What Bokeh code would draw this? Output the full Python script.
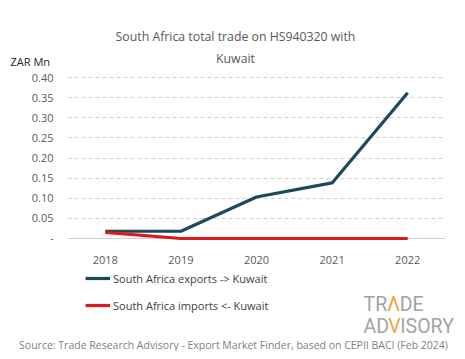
import numpy as np
from bokeh.plotting import figure
from bokeh.layouts import column
from bokeh.models import (Range1d, Label, Legend, LegendItem, FixedTicker, CustomJSTickFormatter,
                          ColumnDataSource, Span)
from bokeh.embed import file_html
from bokeh.resources import INLINE

years = ["2018", "2019", "2020", "2021", "2022"]
exports = [0.018, 0.018, 0.103, 0.138, 0.362]
imports = [0.015, 0.0, 0.0, 0.0, 0.0]
y_ticks = [0.0, 0.05, 0.10, 0.15, 0.20, 0.25, 0.30, 0.35, 0.40]
title_lines = ["South Africa total trade on HS940320 with", "Kuwait"]
series_names = ["South Africa exports -> Kuwait", "South Africa imports <- Kuwait"]
series_colors = ["#1b4a5c", "#dc1a1b"]
source_text = "Source: Trade Research Advisory - Export Market Finder, based on CEPII BACI (Feb 2024)"

FONT = "Open Sans"
W = 449
TOP_H, MAIN_H, BOT_H = 62, 198, 83


def blank(h):
    f = figure(width=W, height=h, x_range=Range1d(0, W), y_range=Range1d(0, h),
               x_axis_type=None, y_axis_type=None, output_backend="svg", toolbar_location=None,
               min_border=0, frame_align=False)
    f.outline_line_color = None
    f.grid.visible = False
    return f


# ---- top: title and unit
top = blank(TOP_H)
top.add_layout(Label(x=227, y=TOP_H - 28, text=title_lines[0], text_align="center",
                     text_baseline="middle", text_font=FONT, text_font_size="12.3px",
                     text_color="#595959"))
top.add_layout(Label(x=227, y=TOP_H - 50, text=title_lines[1], text_align="center",
                     text_baseline="middle", text_font=FONT, text_font_size="12.3px",
                     text_color="#595959"))
top.add_layout(Label(x=2, y=TOP_H - 53, text="ZAR Mn", text_align="left",
                     text_baseline="middle", text_font=FONT, text_font_size="11px",
                     text_color="#262626"))

# ---- main chart
p = figure(x_range=years, y_range=Range1d(-0.01, 0.41), width=W, height=MAIN_H,
           output_backend="svg", toolbar_location=None, frame_align=False,
           min_border_left=59, min_border_right=12, min_border_top=3, min_border_bottom=26)
p.outline_line_color = None

src = ColumnDataSource(dict(year=years, exp=exports, imp=imports))
p.add_layout(Span(location=0, dimension="width", line_color="#d0d0d0", line_width=1,
                  level="underlay"))
p.line("year", "exp", source=src, line_color=series_colors[0], line_width=3.2)
p.line("year", "imp", source=src, line_color=series_colors[1], line_width=3.2)

p.xgrid.grid_line_color = None
p.ygrid.ticker = FixedTicker(ticks=y_ticks[1:])
p.ygrid.grid_line_color = "#d0d0d0"
p.ygrid.grid_line_dash = "4 3"
p.ygrid.grid_line_width = 1

p.yaxis.ticker = FixedTicker(ticks=y_ticks)
p.yaxis.formatter = CustomJSTickFormatter(code="return tick == 0 ? '-' : tick.toFixed(2);")
for ax in (p.xaxis[0], p.yaxis[0]):
    ax.axis_line_color = None
    ax.major_tick_line_color = None
    ax.minor_tick_line_color = None
    ax.major_label_text_font = FONT
    ax.major_label_text_font_size = "11px"
    ax.major_label_text_color = "#595959"
p.yaxis.major_label_standoff = 8
p.xaxis.major_label_standoff = 7

# ---- bottom: legend, watermark, source
bot = blank(BOT_H)
r1 = bot.line(x=[np.nan], y=[np.nan], line_color=series_colors[0], line_width=3.2)
r2 = bot.line(x=[np.nan], y=[np.nan], line_color=series_colors[1], line_width=3.2)
legend = Legend(items=[LegendItem(label=series_names[0], renderers=[r1]),
                       LegendItem(label=series_names[1], renderers=[r2])],
                location=(77, 36), orientation="vertical",
                label_text_font=FONT, label_text_font_size="11px", label_text_color="#404040",
                glyph_width=25, glyph_height=20, label_height=20, label_standoff=3, spacing=7,
                background_fill_alpha=0, border_line_color=None, padding=0, margin=0)
bot.add_layout(legend, "center")

GREY, ORANGE = "#a3a3a3", "#f2a33a"
for txt, xx, yy, col in [("TR", 355, 47, GREY), ("Λ", 378.8, 47, ORANGE), ("DE", 391.2, 47, GREY),
                         ("AD", 355, 25, GREY), ("V", 379.8, 25, ORANGE), ("ISORY", 391.8, 25, GREY)]:
    bot.add_layout(Label(x=xx, y=yy, text=txt, text_align="left", text_baseline="alphabetic",
                         text_font="Roboto", text_font_size="19.5px", text_color=col))

bot.add_layout(Label(x=225, y=7, text=source_text, text_align="center", text_baseline="middle",
                     text_font=FONT, text_font_size="10.5px", text_color="#7f7f7f"))

layout = column(top, p, bot, spacing=0, margin=(8, 0, 0, 8))
open("out.html", "w").write(file_html(layout, INLINE))
